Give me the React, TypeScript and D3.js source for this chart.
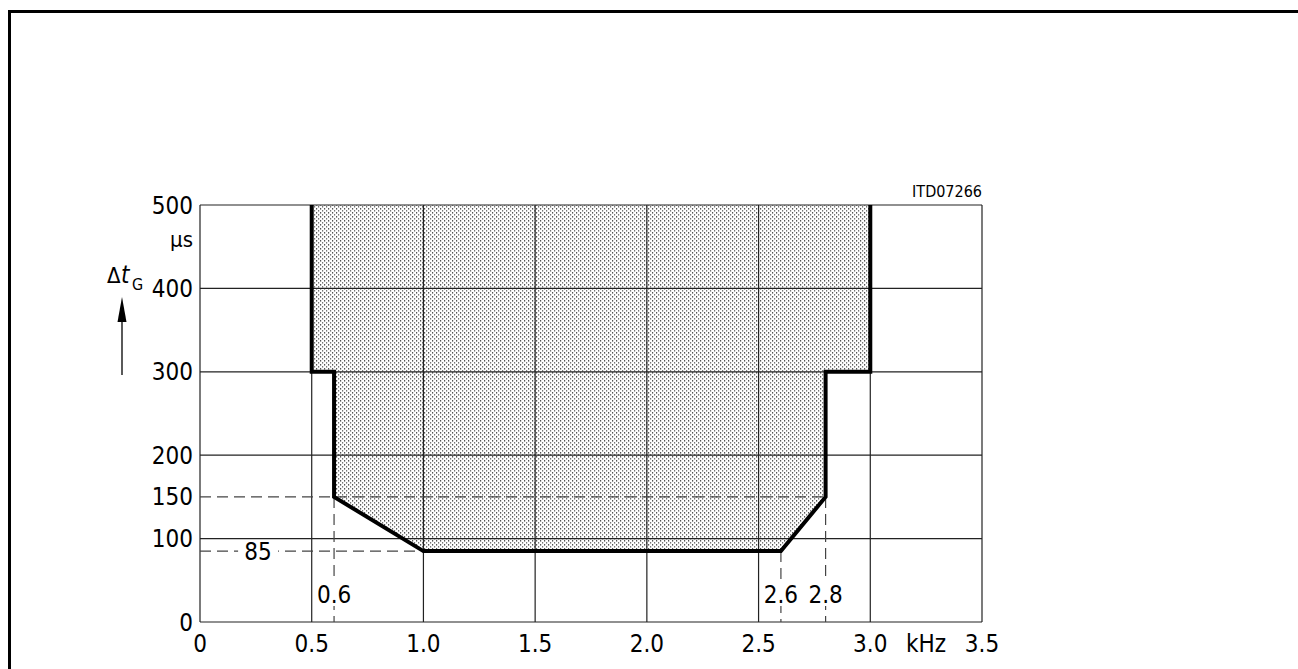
import React from 'react';
import * as d3 from 'd3';

// axis ticks
const xTicks = [0, 0.5, 1.0, 1.5, 2.0, 2.5, 3.0, 3.5];
const xTickLabels = ['0', '0.5', '1.0', '1.5', '2.0', '2.5', '3.0', '3.5'];
const yTicks = [0, 100, 150, 200, 300, 400, 500];
const yGrid = [100, 200, 300, 400, 500];

// tolerance mask boundary (kHz, µs)
const maskF = [0.5, 0.5, 0.6, 0.6, 1.0, 2.6, 2.8, 2.8, 3.0, 3.0];
const maskT = [500, 300, 300, 150, 85, 85, 150, 300, 300, 500];

// dashed reference markers
const refFreqs = [0.6, 2.6, 2.8];
const refFreqLabels = ['0.6', '2.6', '2.8'];
const refFreqFrom = [150, 85, 150];

const FONT = '"DejaVu Sans Condensed", "DejaVu Sans", sans-serif';

export default function App() {
  const x = d3.scaleLinear().domain([0, 3.5]).range([200, 982]);
  const y = d3.scaleLinear().domain([0, 500]).range([622, 205]);

  const pts: [number, number][] = maskF.map((f, i) => [x(f), y(maskT[i])]);
  const line = d3.line();
  const area = line(pts) + 'Z';

  const dash = '11,6';

  return (
    <svg
      width={1298}
      height={669}
      style={{ position: 'absolute', left: 0, top: 0, background: '#fff' }}
      fontFamily={FONT}
    >
      <defs>
        <pattern id="dots" width={4} height={4} patternUnits="userSpaceOnUse">
          <rect x={0} y={0} width={1.2} height={1.6} fill="#555" />
          <rect x={2} y={2} width={1.2} height={1.6} fill="#777" />
        </pattern>
      </defs>

      {/* outer frame */}
      <rect x={9.5} y={11.5} width={1400} height={800} fill="none" stroke="#000" strokeWidth={3} />

      {/* shaded region */}
      <path d={area} fill="url(#dots)" stroke="none" />

      {/* grid */}
      {xTicks.map((t) => (
        <line key={'gx' + t} x1={x(t)} x2={x(t)} y1={y(0)} y2={y(500)} stroke="#222" strokeWidth={1.2} />
      ))}
      {[0, ...yGrid].map((t) => (
        <line key={'gy' + t} x1={x(0)} x2={x(3.5)} y1={y(t)} y2={y(t)} stroke="#222" strokeWidth={1.2} />
      ))}

      {/* dashed reference lines */}
      <line x1={x(0)} x2={x(2.8)} y1={y(150)} y2={y(150)} stroke="#444" strokeWidth={1.2} strokeDasharray={dash} />
      <line x1={x(0)} x2={x(1.0)} y1={y(85)} y2={y(85)} stroke="#444" strokeWidth={1.2} strokeDasharray={dash} />
      {refFreqs.map((f, i) => (
        <line key={'rf' + f} x1={x(f)} x2={x(f)} y1={y(refFreqFrom[i])} y2={y(0)} stroke="#444" strokeWidth={1.2} strokeDasharray={dash} />
      ))}

      {/* boundary */}
      <path d={line(pts) || ''} fill="none" stroke="#000" strokeWidth={4} strokeLinejoin="miter" />

      {/* reference labels with white backing */}
      {refFreqs.map((f, i) => (
        <g key={'rl' + f}>
          <rect x={x(f) - 9} y={582} width={18} height={24} fill="#fff" />
          <text x={x(f)} y={603} textAnchor="middle" fontSize={24}>{refFreqLabels[i]}</text>
        </g>
      ))}
      <rect x={x(0.26) - 20} y={y(85) - 3} width={40} height={6} fill="#fff" />
      <text x={x(0.26)} y={y(85) + 9} textAnchor="middle" fontSize={24}>85</text>

      {/* y tick labels */}
      {yTicks.map((t) => (
        <text key={'yl' + t} x={193} y={y(t) + 8.5} textAnchor="end" fontSize={24}>{t}</text>
      ))}
      <text x={193} y={247} textAnchor="end" fontSize={22}>µs</text>

      {/* x tick labels */}
      {xTicks.map((t, i) => (
        <text key={'xl' + t} x={x(t)} y={652} textAnchor="middle" fontSize={24}>{xTickLabels[i]}</text>
      ))}
      <text x={x(3.25)} y={652} textAnchor="middle" fontSize={24}>kHz</text>

      {/* y axis title */}
      <text x={107} y={283} fontSize={22}>Δ</text>
      <text x={121} y={283} fontSize={24} fontStyle="italic">t</text>
      <text x={132} y={290} fontSize={16}>G</text>
      <line x1={122} x2={122} y1={318} y2={375} stroke="#000" strokeWidth={1.3} />
      <path d="M122,297 L117.5,322 L126.5,322 Z" fill="#000" />

      {/* figure id */}
      <text x={982} y={197} textAnchor="end" fontSize={16}>ITD07266</text>
    </svg>
  );
}
